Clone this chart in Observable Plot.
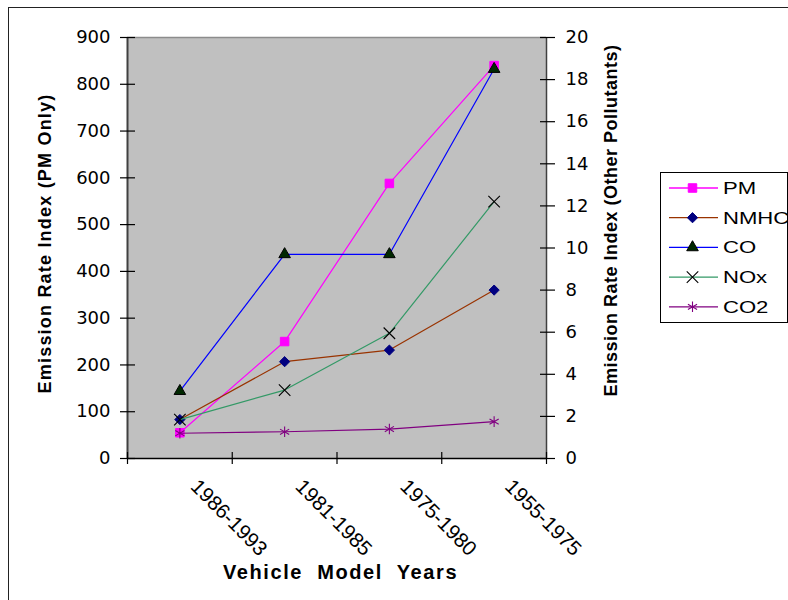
<!DOCTYPE html>
<html><head><meta charset="utf-8">
<script src="https://cdn.jsdelivr.net/npm/d3@7"></script>
<script src="https://cdn.jsdelivr.net/npm/@observablehq/plot@0.6"></script>
<style>
body{margin:0;background:#fff;}
#wrap{position:relative;width:788px;height:600px;overflow:hidden;background:#fff;}
#border{position:absolute;left:8px;top:7px;width:820px;height:700px;border:1px solid #222;box-sizing:border-box;}
#wrap svg{position:absolute;left:0;top:0;}
</style></head><body><div id="wrap"><div id="border"></div></div>
<script>
// ---- data ----
const categories = ["1986-1993", "1981-1985", "1975-1980", "1955-1975"];
const pm   = [55, 250, 588, 840];        // left axis
const nmhc = [1.85, 4.6, 5.15, 8.0];     // right axis
const co   = [3.2, 9.7, 9.7, 18.5];
const nox  = [1.85, 3.25, 5.95, 12.2];
const co2  = [1.2, 1.27, 1.4, 1.75];
const seriesNames = ["PM", "NMHC", "CO", "NOx", "CO2"];
const leftTicks = d3.range(0, 901, 100);
const rightTicks = d3.range(0, 21, 2);
const leftMax = 900, rightMax = 20;
const leftTitle = "Emission Rate Index (PM Only)";
const rightTitle = "Emission Rate Index (Other Pollutants)";
const xTitle = "Vehicle Model Years";

// ---- styles ----
const ratio = leftMax / rightMax;
const seriesValues = [pm, nmhc, co, nox, co2];
const seriesAxis = ["left", "right", "right", "right", "right"];
const styles = {
  PM:   {line: "#FF00FF", symbol: "square",   fill: "#FF00FF", stroke: "#FF00FF", r: 4.8, sw: 1},
  NMHC: {line: "#993300", symbol: "diamond2", fill: "#000080", stroke: "#000080", r: 4.6, sw: 1},
  CO:   {line: "#0000FF", symbol: "triangle", fill: "#002800", stroke: "#000000", r: 4.3, sw: 1},
  NOx:  {line: "#339966", symbol: "times",    fill: "none",    stroke: "#000000", r: 5.3, sw: 1.1},
  CO2:  {line: "#800080", symbol: "asterisk", fill: "none",    stroke: "#800080", r: 5.0, sw: 1.1}
};

const rows = seriesNames.flatMap((n, k) => seriesValues[k].map((v, i) => ({
  series: n, i, cat: categories[i], value: v,
  y: seriesAxis[k] === "left" ? v : v * ratio
})));
const boundaries = d3.range(categories.length + 1).map(b => b - 0.5);
const xMin = -0.5, xMax = categories.length - 0.5;

const seriesMarks = seriesNames.flatMap(n => {
  const s = styles[n];
  const d = rows.filter(r => r.series === n);
  return [
    Plot.line(d, {x: "i", y: "y", stroke: s.line, strokeWidth: 1.2}),
    Plot.dot(d, {x: "i", y: "y", symbol: s.symbol, r: s.r, fill: s.fill, stroke: s.stroke, strokeWidth: s.sw})
  ];
});

const chart = Plot.plot({
  width: 788, height: 600,
  marginLeft: 127, marginRight: 242, marginTop: 37, marginBottom: 142,
  style: {background: "transparent", fontFamily: "Liberation Sans, Arial, sans-serif", fontSize: "18px", color: "#000", overflow: "visible"},
  x: {type: "linear", domain: [xMin, xMax], axis: null},
  y: {domain: [0, leftMax], axis: null},
  marks: [
    Plot.frame({fill: "#C0C0C0", stroke: "none"}),
    Plot.ruleY([leftMax], {stroke: "#8c8c8c", strokeWidth: 1.5}),
    Plot.ruleX([xMin], {stroke: "#404040", strokeWidth: 2}),
    Plot.ruleX([xMax], {stroke: "#404040", strokeWidth: 1.5}),
    Plot.ruleY([0], {stroke: "#000", strokeWidth: 1.5}),
    // crossing tick marks
    Plot.ruleY(leftTicks, {y: d => d, x1: xMin, x2: xMin, insetLeft: -7, insetRight: -8, stroke: "#000", strokeWidth: 1.2}),
    Plot.ruleY(rightTicks.map(t => t * ratio), {y: d => d, x1: xMax, x2: xMax, insetLeft: -6, insetRight: -9, stroke: "#000", strokeWidth: 1.2}),
    Plot.ruleX(boundaries, {x: d => d, y1: 0, y2: 0, insetTop: 6, insetBottom: 6, stroke: "#000", strokeWidth: 1.2}),
    // tick labels
    Plot.axisY({ticks: leftTicks, anchor: "left", tickSize: 0, tickPadding: 17, label: null, fontFamily: "DejaVu Sans", fontSize: 18}),
    Plot.axisY({ticks: rightTicks.map(t => t * ratio), anchor: "right", tickSize: 0, tickPadding: 19, label: null,
      tickFormat: d => String(Math.round(d / ratio)), fontFamily: "DejaVu Sans", fontSize: 18}),
    Plot.text(categories, {x: (d, i) => i, frameAnchor: "bottom", rotate: 45, textAnchor: "start", lineAnchor: "top",
      dx: 20, dy: 19, fontFamily: "Liberation Sans", fontSize: 20.5}),
    // titles
    Plot.text([leftTitle], {frameAnchor: "left", dx: -82, dy: -4.5, rotate: -90, textAnchor: "middle", lineAnchor: "middle",
      fontWeight: "bold", fontSize: 18, fontFamily: "Liberation Sans"}),
    Plot.text([rightTitle], {frameAnchor: "right", dx: 65, dy: -27.5, rotate: -90, textAnchor: "middle", lineAnchor: "middle",
      fontWeight: "bold", fontSize: 18, fontFamily: "Liberation Sans"}),
    Plot.text([xTitle], {frameAnchor: "bottom", dx: 3.5, dy: 114, textAnchor: "middle", lineAnchor: "middle",
      fontWeight: "bold", fontSize: 20, fontFamily: "Liberation Sans"}),
    ...seriesMarks
  ]
});

// letter spacing tweaks for titles
d3.select(chart).selectAll("text").each(function() {
  const t = this.textContent;
  if (t === leftTitle) this.setAttribute("letter-spacing", "1.2");
  if (t === rightTitle) this.setAttribute("letter-spacing", "0.5");
  if (t === xTitle) { this.setAttribute("letter-spacing", "1.6"); this.setAttribute("word-spacing", "7"); }
});

document.getElementById("wrap").appendChild(chart);

// ---- legend ----
const legend = d3.select("#wrap").append("svg").attr("width", 788).attr("height", 600);
const lx = 660.5, ly = 172.5, lw = 127, lh = 150;
legend.append("rect").attr("x", lx).attr("y", ly).attr("width", lw).attr("height", lh)
  .attr("fill", "#fff").attr("stroke", "#000").attr("stroke-width", 1);
const symbolMap = {square: d3.symbolSquare, diamond2: d3.symbolDiamond2, triangle: d3.symbolTriangle, times: d3.symbolTimes, asterisk: d3.symbolAsterisk};
seriesNames.forEach((n, k) => {
  const s = styles[n];
  const y = 188 + k * 29.7;
  const g = legend.append("g");
  g.append("line").attr("x1", 669).attr("x2", 718).attr("y1", y).attr("y2", y).attr("stroke", s.line).attr("stroke-width", 1.3);
  g.append("path").attr("d", d3.symbol(symbolMap[s.symbol], Math.PI * s.r * s.r)())
    .attr("transform", `translate(692.5,${y})`).attr("fill", s.fill).attr("stroke", s.stroke).attr("stroke-width", s.sw);
  g.append("text").text(n).attr("transform", `translate(723,${y + 5.8}) scale(1.38,1)`)
    .attr("font-family", "Liberation Sans, Arial, sans-serif").attr("font-size", 16).attr("fill", "#000");
});
</script>
</body></html>
